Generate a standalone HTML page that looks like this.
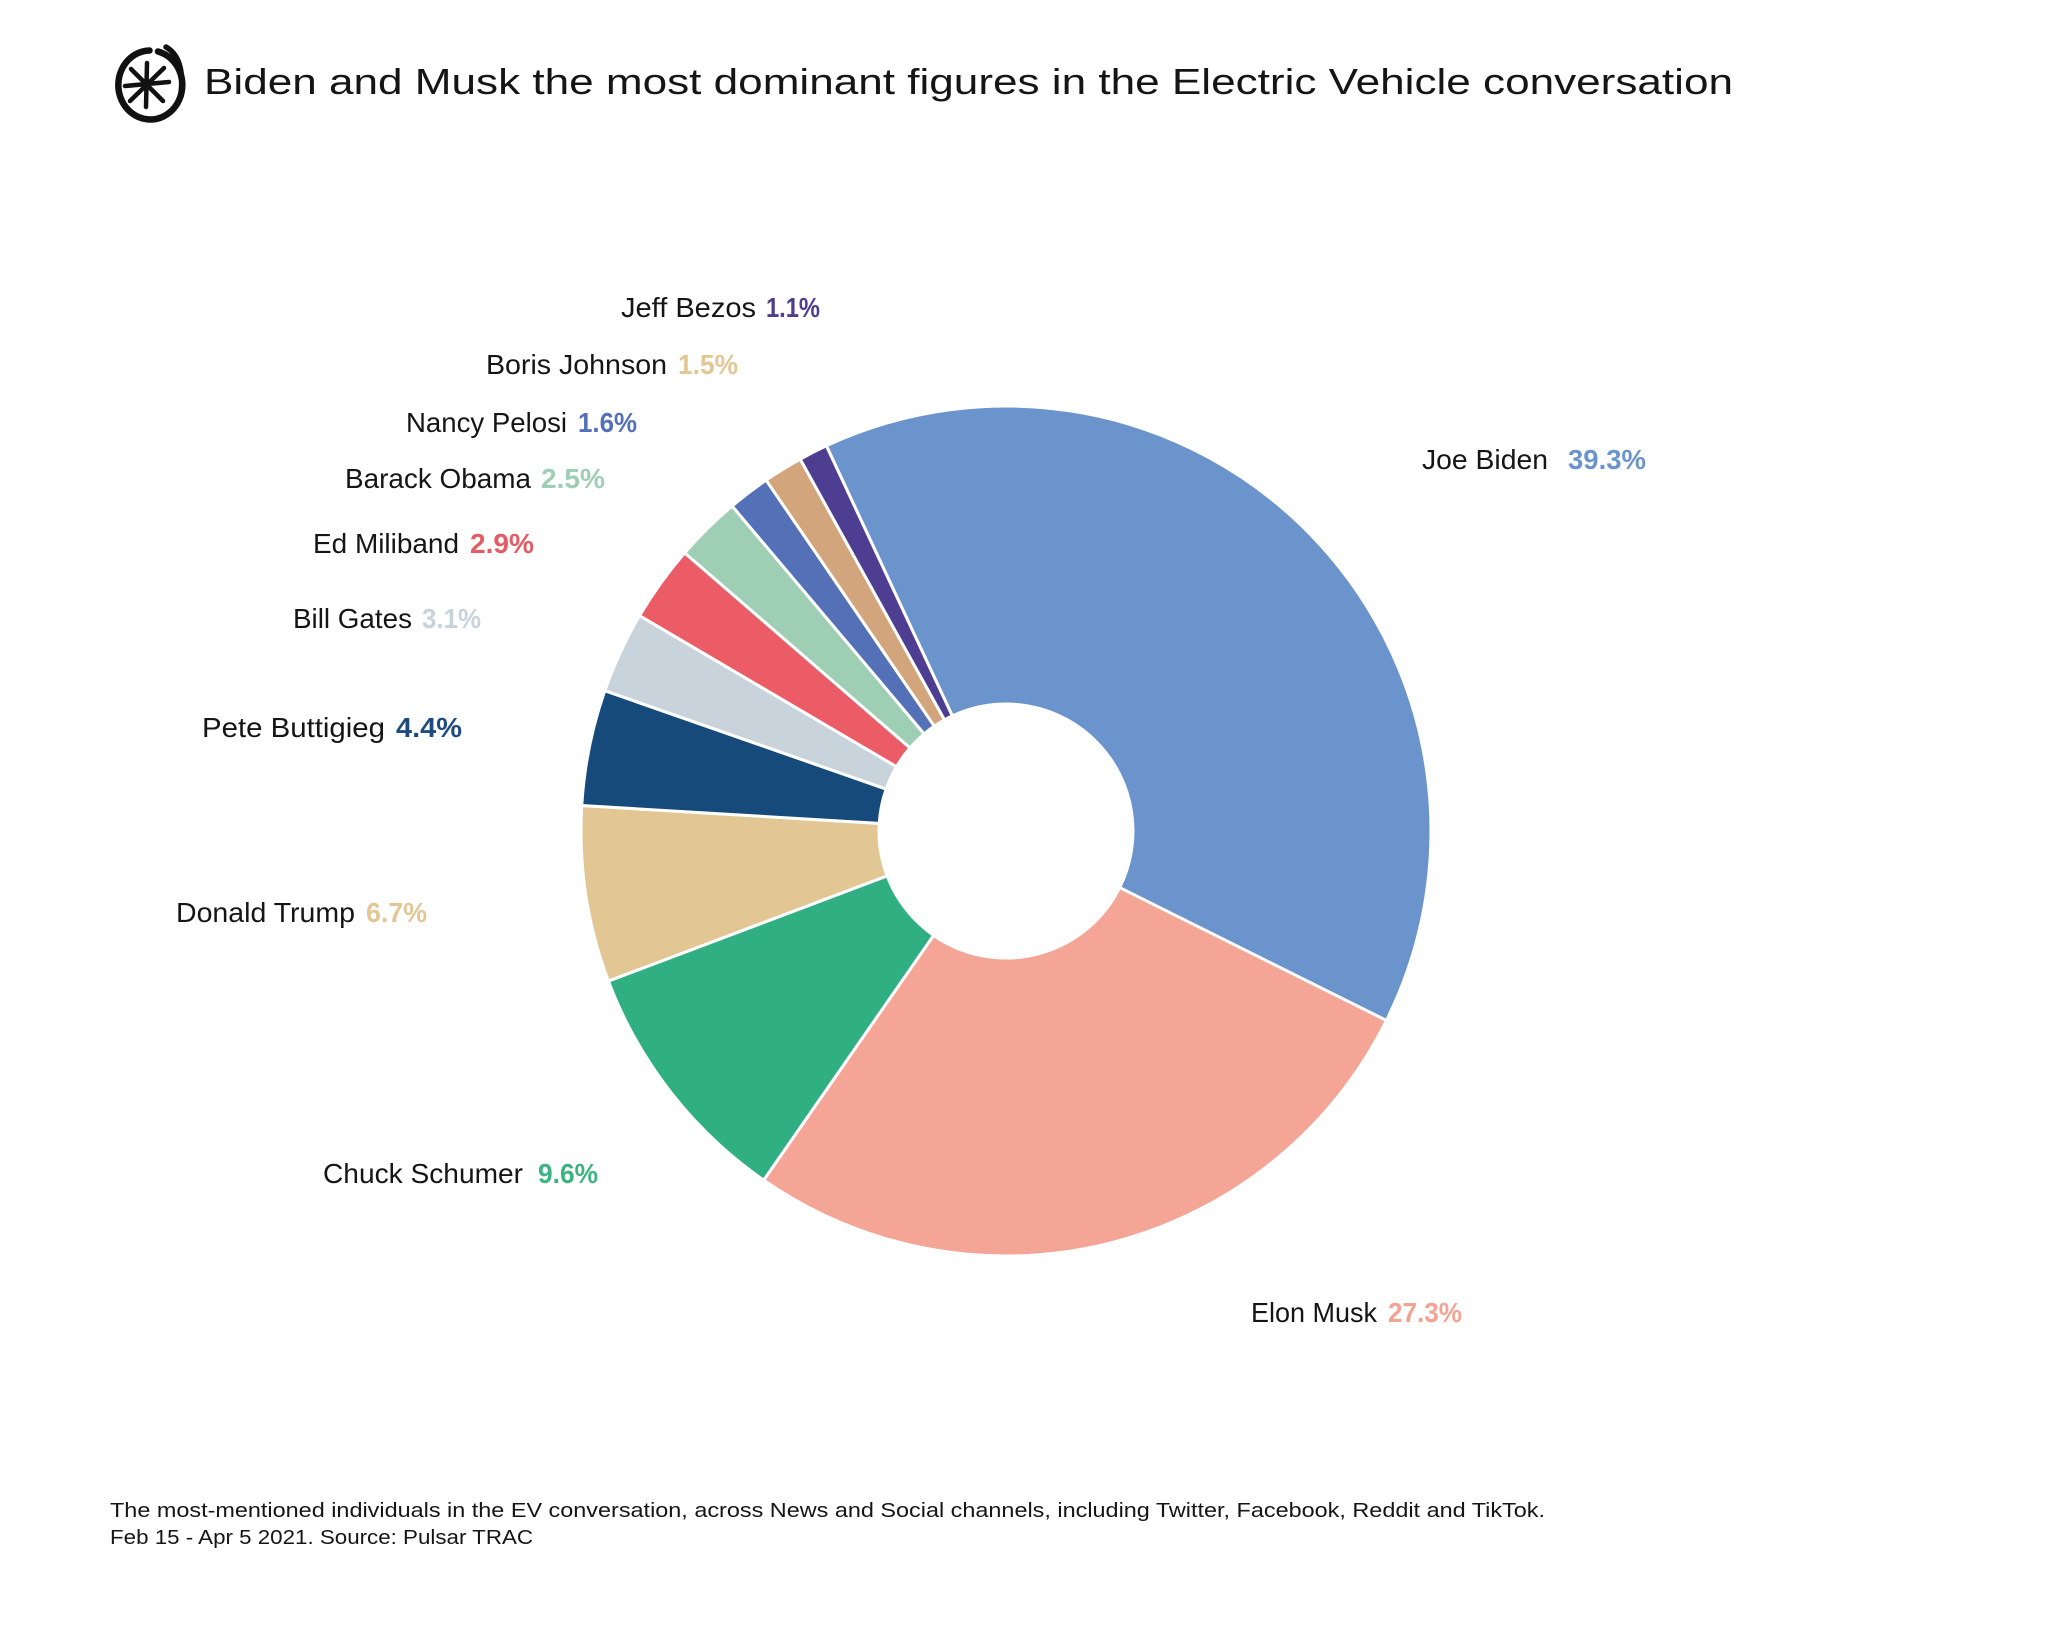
<!DOCTYPE html>
<html>
<head>
<meta charset="utf-8">
<style>
  html,body{margin:0;padding:0;background:#ffffff;}
  svg{display:block;}
  text{font-family:"Liberation Sans", Arial, sans-serif;}
</style>
</head>
<body>
<svg width="2048" height="1638" viewBox="0 0 2048 1638" xmlns="http://www.w3.org/2000/svg">
  <rect width="2048" height="1638" fill="#ffffff"/>

  <!-- Logo -->
  <g fill="none" stroke="#111" stroke-linecap="round" stroke-linejoin="round">
    <path d="M158 51.5 A32 34.5 0 1 1 149.5 50.5" stroke-width="6.5"/>
    <path d="M166 47 Q185 58 181 94" stroke-width="5.5"/>
    <g stroke-width="4.5">
      <line x1="147" y1="63" x2="146" y2="107"/>
      <line x1="125" y1="86" x2="169" y2="82"/>
      <line x1="131" y1="69" x2="163" y2="101"/>
      <line x1="164" y1="68" x2="130" y2="101"/>
    </g>
  </g>

  <!-- Title -->
  <text x="204" y="94" font-size="36" fill="#151515" textLength="1529" lengthAdjust="spacingAndGlyphs">Biden and Musk the most dominant figures in the Electric Vehicle conversation</text>

  <!-- Donut -->
  <g stroke="#ffffff" stroke-width="3" stroke-linejoin="round">
    <path fill="#6b94cc" d="M826.39 445.82 A425 425 0 0 1 1386.41 1020.50 L1119.68 887.63 A127 127 0 0 0 952.33 715.90 Z"/>
    <path fill="#f4a595" d="M1386.41 1020.50 A425 425 0 0 1 763.69 1180.16 L933.59 935.34 A127 127 0 0 0 1119.68 887.63 Z"/>
    <path fill="#2faf82" d="M763.69 1180.16 A425 425 0 0 1 608.38 981.09 L887.18 875.85 A127 127 0 0 0 933.59 935.34 Z"/>
    <path fill="#e2c795" d="M608.38 981.09 A425 425 0 0 1 581.76 805.50 L879.23 823.38 A127 127 0 0 0 887.18 875.85 Z"/>
    <path fill="#164a7b" d="M581.76 805.50 A425 425 0 0 1 604.83 690.67 L886.12 789.07 A127 127 0 0 0 879.23 823.38 Z"/>
    <path fill="#c8d3db" d="M604.83 690.67 A425 425 0 0 1 639.57 615.67 L896.50 766.66 A127 127 0 0 0 886.12 789.07 Z"/>
    <path fill="#ec5c66" d="M639.57 615.67 A425 425 0 0 1 684.67 552.85 L909.98 747.88 A127 127 0 0 0 896.50 766.66 Z"/>
    <path fill="#9ecfb5" d="M684.67 552.85 A425 425 0 0 1 732.13 506.01 L924.16 733.88 A127 127 0 0 0 909.98 747.88 Z"/>
    <path fill="#5470b6" d="M732.13 506.01 A425 425 0 0 1 766.13 480.16 L934.32 726.16 A127 127 0 0 0 924.16 733.88 Z"/>
    <path fill="#d2a57c" d="M766.13 480.16 A425 425 0 0 1 800.21 459.14 L944.51 719.88 A127 127 0 0 0 934.32 726.16 Z"/>
    <path fill="#4d3e91" d="M800.21 459.14 A425 425 0 0 1 826.39 445.82 L952.33 715.90 A127 127 0 0 0 944.51 719.88 Z"/>
  </g>

  <!-- Labels -->
  <g font-size="28" fill="#151515">
    <text x="621" y="317" textLength="135" lengthAdjust="spacingAndGlyphs">Jeff Bezos</text>
    <text x="486" y="374" textLength="181" lengthAdjust="spacingAndGlyphs">Boris Johnson</text>
    <text x="406" y="432" textLength="161" lengthAdjust="spacingAndGlyphs">Nancy Pelosi</text>
    <text x="345" y="488" textLength="186" lengthAdjust="spacingAndGlyphs">Barack Obama</text>
    <text x="313" y="553" textLength="146" lengthAdjust="spacingAndGlyphs">Ed Miliband</text>
    <text x="293" y="628" textLength="119" lengthAdjust="spacingAndGlyphs">Bill Gates</text>
    <text x="202" y="737" textLength="183" lengthAdjust="spacingAndGlyphs">Pete Buttigieg</text>
    <text x="176" y="922" textLength="179" lengthAdjust="spacingAndGlyphs">Donald Trump</text>
    <text x="323" y="1183" textLength="200" lengthAdjust="spacingAndGlyphs">Chuck Schumer</text>
    <text x="1251" y="1322" textLength="126" lengthAdjust="spacingAndGlyphs">Elon Musk</text>
    <text x="1422" y="469" textLength="126" lengthAdjust="spacingAndGlyphs">Joe Biden</text>
  </g>
  <g font-size="28" font-weight="bold">
    <text x="766" y="317" textLength="54" lengthAdjust="spacingAndGlyphs" fill="#4d3e91">1.1%</text>
    <text x="678" y="374" textLength="60" lengthAdjust="spacingAndGlyphs" fill="#e2c795">1.5%</text>
    <text x="578" y="432" textLength="59" lengthAdjust="spacingAndGlyphs" fill="#5470b6">1.6%</text>
    <text x="541" y="488" textLength="64" lengthAdjust="spacingAndGlyphs" fill="#9ecfb5">2.5%</text>
    <text x="470" y="553" textLength="64" lengthAdjust="spacingAndGlyphs" fill="#e65a64">2.9%</text>
    <text x="422" y="628" textLength="59" lengthAdjust="spacingAndGlyphs" fill="#c8d3db">3.1%</text>
    <text x="396" y="737" textLength="66" lengthAdjust="spacingAndGlyphs" fill="#1f4a80">4.4%</text>
    <text x="366" y="922" textLength="61" lengthAdjust="spacingAndGlyphs" fill="#e2c795">6.7%</text>
    <text x="538" y="1183" textLength="60" lengthAdjust="spacingAndGlyphs" fill="#3db382">9.6%</text>
    <text x="1388" y="1322" textLength="74" lengthAdjust="spacingAndGlyphs" fill="#f2a392">27.3%</text>
    <text x="1568" y="469" textLength="78" lengthAdjust="spacingAndGlyphs" fill="#6b94cc">39.3%</text>
  </g>

  <!-- Footer -->
  <g font-size="20.5" fill="#151515">
    <text x="110" y="1517" textLength="1435" lengthAdjust="spacingAndGlyphs">The most-mentioned individuals in the EV conversation, across News and Social channels, including Twitter, Facebook, Reddit and TikTok.</text>
    <text x="110" y="1544" textLength="423" lengthAdjust="spacingAndGlyphs">Feb 15 - Apr 5 2021. Source: Pulsar TRAC</text>
  </g>
</svg>
</body>
</html>
